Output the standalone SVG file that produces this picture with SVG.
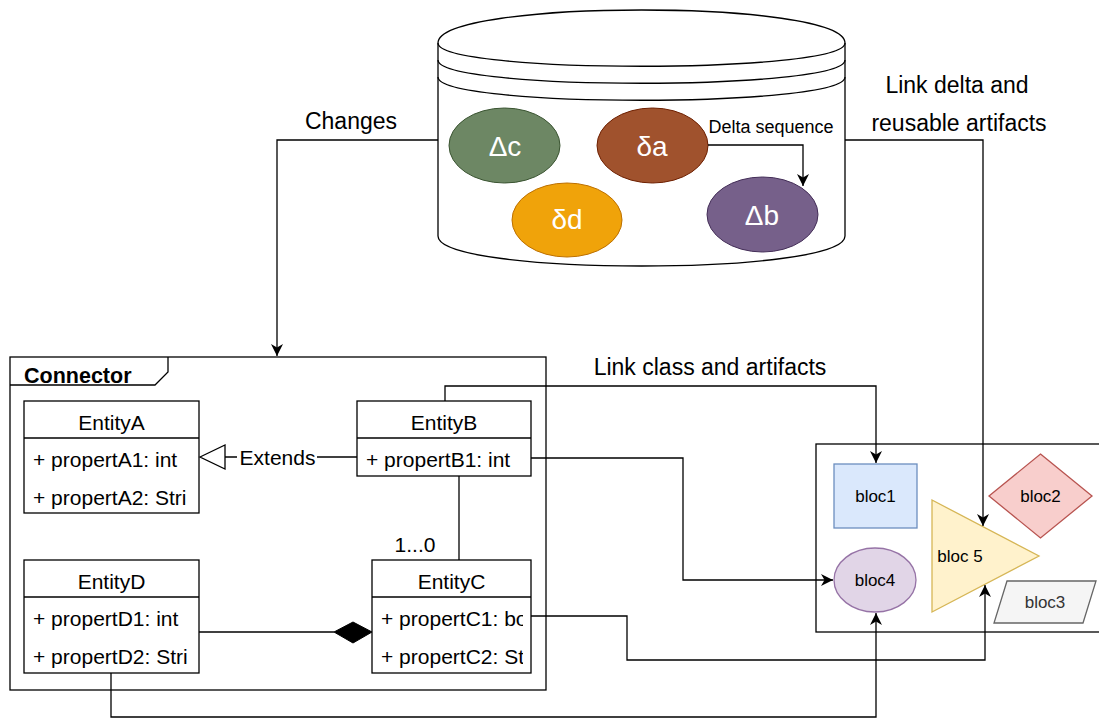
<svg xmlns="http://www.w3.org/2000/svg" width="1099" height="719" viewBox="0 0 1099 719">
<style>
text{font-family:"Liberation Sans",Arial,sans-serif;fill:#000}
.ent{font-size:21px}
.big{font-size:23px}
.blk{font-size:17px;text-anchor:middle}
.dl{font-size:28px;fill:#fff;text-anchor:middle}
.mid{text-anchor:middle}
.ln{fill:none;stroke:#000;stroke-width:1.3}
.box{fill:#fff;stroke:#000;stroke-width:1.3}
</style>
<defs>
<marker id="arr" markerWidth="14" markerHeight="12" refX="12" refY="6" orient="auto" markerUnits="userSpaceOnUse">
<path d="M0,0 L12,6 L0,12 L3.5,6 Z" fill="#000"/>
</marker>
<clipPath id="clipA"><rect x="24" y="476" width="167" height="37"/></clipPath>
<clipPath id="clipD"><rect x="24" y="635" width="167" height="38"/></clipPath>
<clipPath id="clipC"><rect x="372" y="597" width="151" height="76"/></clipPath>
</defs>

<g id="datastore">
<path d="M438,43 C438,-1 845,-1 845,43 L845,236 C845,276 438,276 438,236 Z" fill="#fff" stroke="#000" stroke-width="1.3"/>
<path class="ln" d="M438,43 C438,74 845,74 845,43"/>
<path class="ln" d="M438,60 C438,91 845,91 845,60"/>
<path class="ln" d="M438,77 C438,108 845,108 845,77"/>
</g>

<g id="delta-c">
<ellipse cx="504.5" cy="145.5" rx="55.5" ry="37.5" fill="#6d8764" stroke="#3a5431"/>
<text class="dl" x="505" y="156">Δc</text>
</g>
<g id="delta-a">
<ellipse cx="652.5" cy="145.5" rx="55.5" ry="37.5" fill="#a0522d" stroke="#6d1f00"/>
<text class="dl" x="652" y="156">δa</text>
</g>
<g id="delta-d">
<ellipse cx="567" cy="220" rx="55" ry="37" fill="#f0a30a" stroke="#bd7000"/>
<text class="dl" x="567" y="229">δd</text>
</g>
<g id="delta-b">
<ellipse cx="762.5" cy="214.5" rx="55.5" ry="37.5" fill="#76608a" stroke="#432d57"/>
<text class="dl" x="762" y="225">Δb</text>
</g>

<g id="connector-frame">
<rect x="10" y="357" width="536" height="333" fill="#fff" stroke="#000" stroke-width="1.3"/>
<path class="ln" d="M10,385 L155,385 L168,372 L168,357"/>
<text x="24" y="383" style="font-size:21.5px;font-weight:bold">Connector</text>
</g>

<g id="entityA">
<rect class="box" x="24" y="401" width="175" height="112"/>
<line class="ln" x1="24" y1="438" x2="199" y2="438"/>
<text class="ent mid" x="111.5" y="430">EntityA</text>
<text class="ent" x="33" y="467">+ propertA1: int</text>
<text class="ent" x="33" y="505" clip-path="url(#clipA)">+ propertA2: Stri</text>
</g>
<g id="entityB">
<rect class="box" x="357" y="401" width="174" height="75"/>
<line class="ln" x1="357" y1="438" x2="531" y2="438"/>
<text class="ent mid" x="444" y="430">EntityB</text>
<text class="ent" x="366" y="467">+ propertB1: int</text>
</g>
<g id="entityD">
<rect class="box" x="24" y="560" width="175" height="113"/>
<line class="ln" x1="24" y1="597" x2="199" y2="597"/>
<text class="ent mid" x="111.5" y="589">EntityD</text>
<text class="ent" x="33" y="626">+ propertD1: int</text>
<text class="ent" x="33" y="664" clip-path="url(#clipD)">+ propertD2: Stri</text>
</g>
<g id="entityC">
<rect class="box" x="372" y="560" width="159" height="113"/>
<line class="ln" x1="372" y1="597" x2="531" y2="597"/>
<text class="ent mid" x="451.5" y="589">EntityC</text>
<text class="ent" x="381" y="626" clip-path="url(#clipC)">+ propertC1: bo</text>
<text class="ent" x="381" y="664" clip-path="url(#clipC)">+ propertC2: St</text>
</g>

<g id="bloc-frame">
<rect x="816" y="444" width="300" height="188" fill="#fff" stroke="#000" stroke-width="1.3"/>
</g>
<g id="bloc1">
<rect x="834" y="464" width="83" height="64" fill="#dae8fc" stroke="#6c8ebf" stroke-width="1.3"/>
<text class="blk" x="875.5" y="502">bloc1</text>
</g>
<g id="bloc2">
<polygon points="1040.5,454 1092,496 1040.5,538 989,496" fill="#f8cecc" stroke="#b85450" stroke-width="1.3"/>
<text class="blk" x="1040.5" y="502">bloc2</text>
</g>
<g id="bloc5">
<polygon points="932,500 1039,556 932,612" fill="#fff2cc" stroke="#d6b656" stroke-width="1.3"/>
<text class="blk" x="960" y="562">bloc 5</text>
</g>
<g id="bloc4">
<ellipse cx="875" cy="580" rx="41" ry="32" fill="#e1d5e7" stroke="#9673a6" stroke-width="1.3"/>
<text class="blk" x="875" y="586">bloc4</text>
</g>
<g id="bloc3">
<polygon points="1007,581 1096,581 1083,623 994,623" fill="#f5f5f5" stroke="#666666" stroke-width="1.3"/>
<text class="blk" x="1045" y="608" style="fill:#333333">bloc3</text>
</g>

<g id="connectors">
<path class="ln" d="M438,140 L277,140 L277,356" marker-end="url(#arr)"/>
<text class="big mid" x="351" y="129">Changes</text>

<path class="ln" d="M708,145 L803,145 L803,186" marker-end="url(#arr)"/>
<text class="mid" x="771" y="133" style="font-size:18px">Delta sequence</text>

<path class="ln" d="M845,140 L983,140 L983,526" marker-end="url(#arr)"/>
<text class="big mid" x="957" y="93">Link delta and</text>
<text class="big mid" x="959" y="131">reusable artifacts</text>

<path class="ln" d="M445,401 L445,386 L876,386 L876,463" marker-end="url(#arr)"/>
<text class="big mid" x="710" y="375">Link class and artifacts</text>

<path class="ln" d="M531,458 L683,458 L683,580 L833,580" marker-end="url(#arr)"/>

<path class="ln" d="M531,616 L627,616 L627,660 L985,660 L985,585" marker-end="url(#arr)"/>

<path class="ln" d="M111,673 L111,717 L876,717 L876,613" marker-end="url(#arr)"/>

<line class="ln" x1="225" y1="457" x2="357" y2="457"/>
<rect x="237" y="446" width="80" height="22" fill="#fff"/>
<polygon points="200,457 225,445 225,469" fill="#fff" stroke="#000" stroke-width="1.3"/>
<text class="ent mid" x="277.5" y="465">Extends</text>

<line class="ln" x1="459" y1="476" x2="459" y2="560"/>
<text class="ent mid" x="415" y="552">1...0</text>

<line class="ln" x1="199" y1="632" x2="334" y2="632"/>
<polygon points="334,632 353,622 372,632 353,643" fill="#000" stroke="#000" stroke-width="1"/>
</g>
</svg>
